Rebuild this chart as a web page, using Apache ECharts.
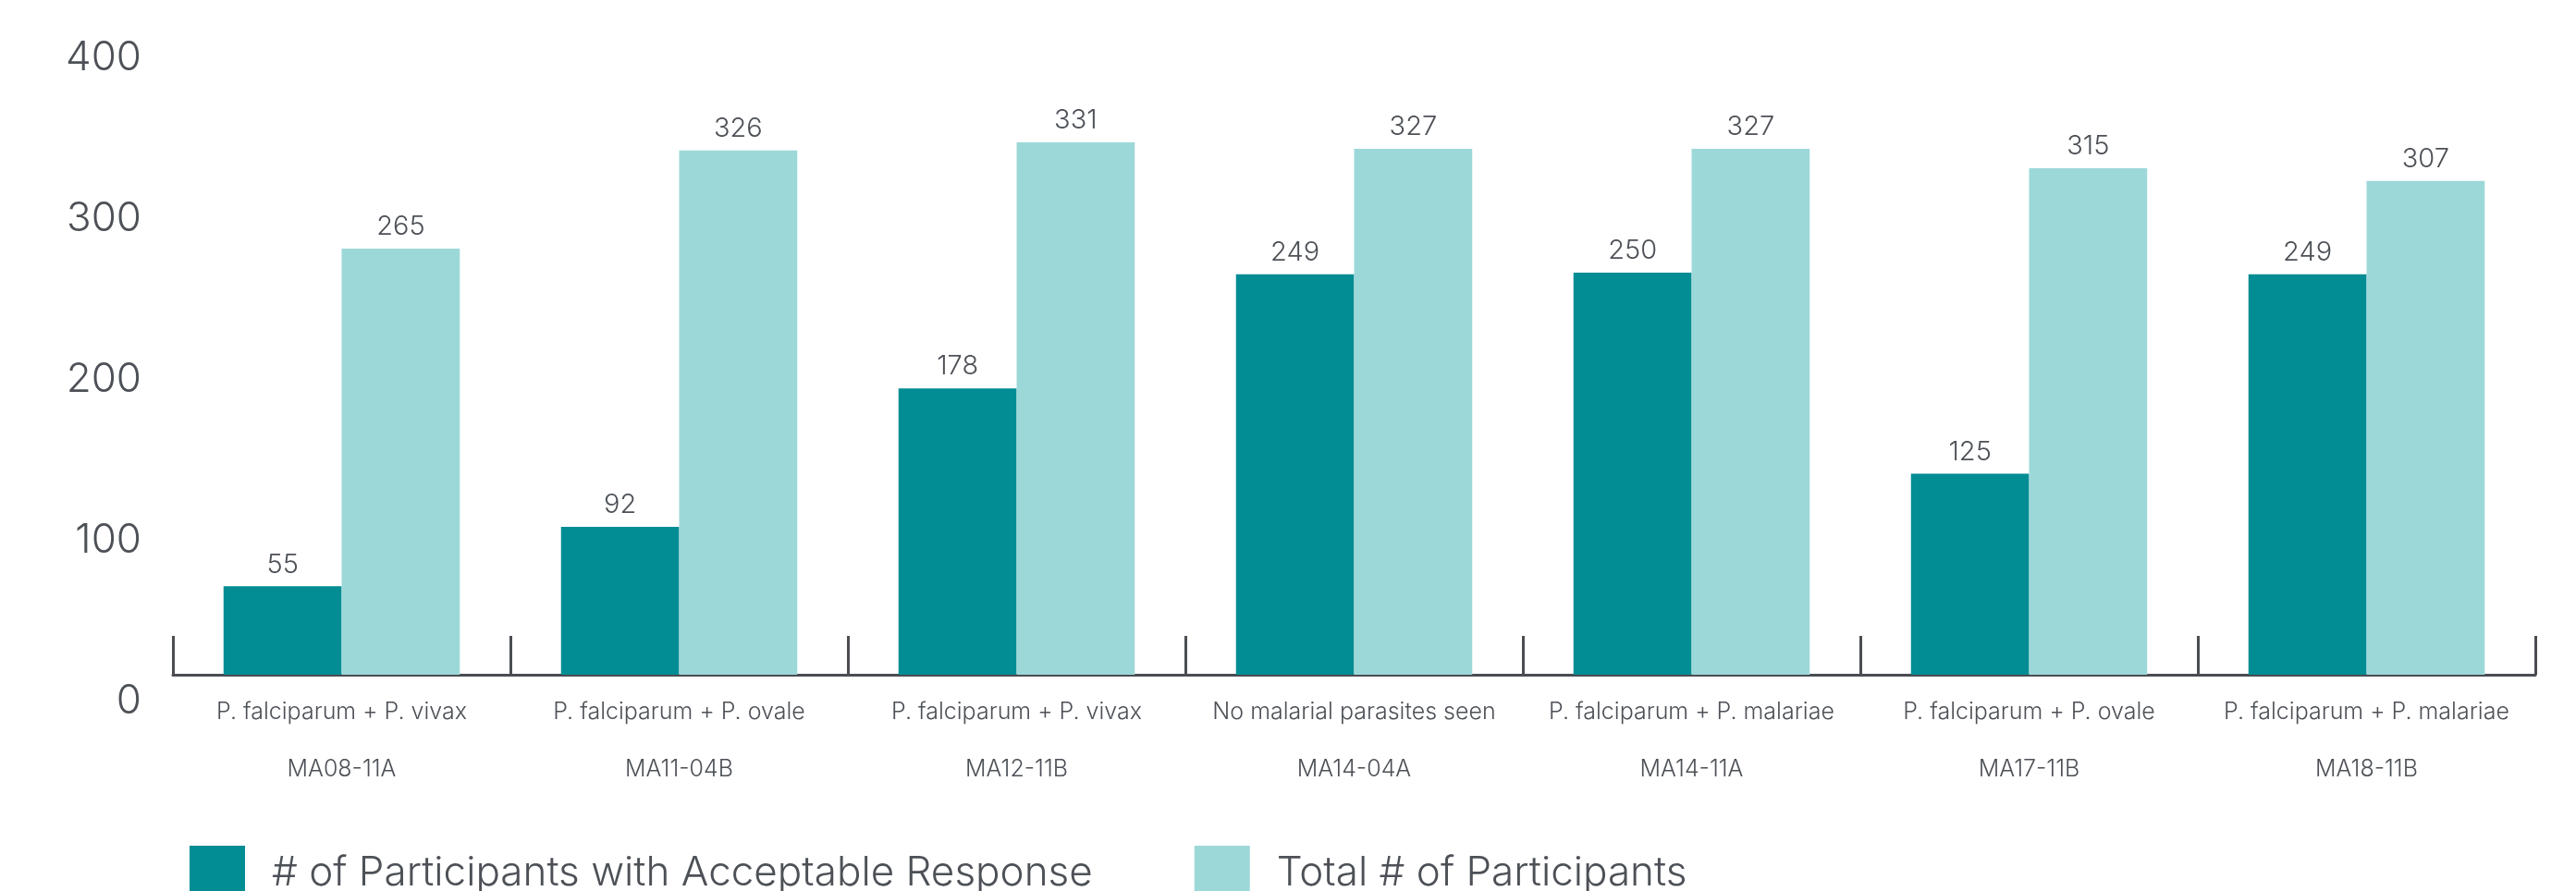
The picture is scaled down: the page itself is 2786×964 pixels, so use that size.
<!DOCTYPE html>
<html>
<head>
<meta charset="utf-8">
<script src="https://cdn.jsdelivr.net/npm/echarts@6/dist/echarts.min.js"></script>
<style>
html,body{margin:0;padding:0;background:#fff;}
#chart{width:2786px;height:964px;}
</style>
</head>
<body>
<div id="chart"></div>
<script>
const codes = ['MA08-11A','MA11-04B','MA12-11B','MA14-04A','MA14-11A','MA17-11B','MA18-11B'];
const species = ['P. falciparum + P. vivax','P. falciparum + P. ovale','P. falciparum + P. vivax','No malarial parasites seen','P. falciparum + P. malariae','P. falciparum + P. ovale','P. falciparum + P. malariae'];
const acceptable = [55, 92, 178, 249, 250, 125, 249];
const total = [265, 326, 331, 327, 327, 315, 307];
const seriesNames = ['# of Participants with Acceptable Response', 'Total # of Participants'];
const yTicks = [0, 100, 200, 300, 400];

const FONT = 'Inter';
const TXT = '#4d5157';
const chart = echarts.init(document.getElementById('chart'));
chart.setOption({
  backgroundColor: '#ffffff',
  animation: false,
  textStyle: {fontFamily: FONT, fontWeight: 300, color: TXT},
  legend: {
    left: 200, top: 910,
    itemWidth: 60, itemHeight: 60, itemGap: 110,
    icon: 'rect',
    textStyle: {fontSize: 44, fontFamily: FONT, fontWeight: 300, color: TXT, padding: [0,0,0,24]},
    data: seriesNames
  },
  grid: {left: 187, right: 44, top: 34, bottom: 234, containLabel: false},
  xAxis: {
    type: 'category',
    data: codes,
    axisLine: {lineStyle: {color: '#4a4d52', width: 3}},
    axisTick: {show: true, inside: true, length: 42, lineStyle: {color: '#4a4d52', width: 3}},
    axisLabel: {
      interval: 0,
      margin: 23,
      formatter: function (v, i) { return '{a|' + species[i] + '}\n{b|' + v + '}'; },
      rich: {
        a: {fontSize: 25, fontFamily: FONT, fontWeight: 300, color: TXT, lineHeight: 34},
        b: {fontSize: 25, fontFamily: FONT, fontWeight: 300, color: TXT, lineHeight: 90}
      }
    }
  },
  yAxis: {
    type: 'value',
    min: yTicks[0], max: yTicks[yTicks.length - 1], interval: 100,
    axisLine: {show: false},
    axisTick: {show: false},
    splitLine: {show: false},
    axisLabel: {
      fontSize: 44, fontFamily: FONT, fontWeight: 300, color: TXT,
      margin: 34, verticalAlign: 'top', lineHeight: 58
    }
  },
  series: [
    {
      name: seriesNames[0], type: 'bar', data: acceptable,
      barGap: '0%', barCategoryGap: '30%',
      itemStyle: {color: '#028c94'},
      label: {show: true, position: 'top', distance: 9, fontSize: 29, fontFamily: FONT, fontWeight: 300, color: TXT}
    },
    {
      name: seriesNames[1], type: 'bar', data: total,
      barGap: '0%', barCategoryGap: '30%',
      itemStyle: {color: '#9dd8d9'},
      label: {show: true, position: 'top', distance: 9, fontSize: 29, fontFamily: FONT, fontWeight: 300, color: TXT}
    }
  ]
});
</script>
</body>
</html>
